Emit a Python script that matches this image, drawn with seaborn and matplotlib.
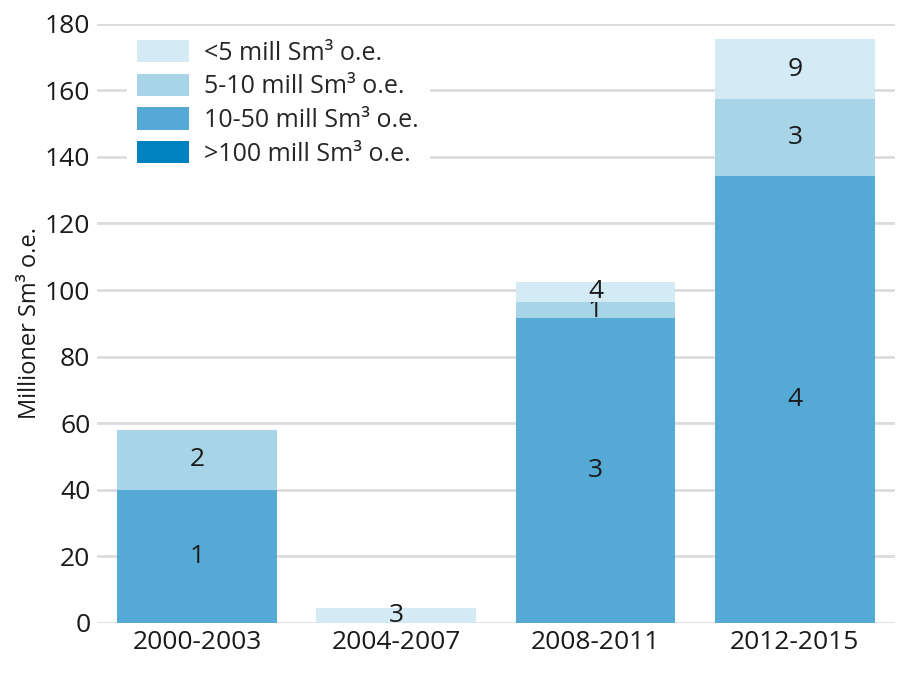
import matplotlib
matplotlib.use('Agg')
import matplotlib.pyplot as plt
from matplotlib.patches import Patch
import numpy as np
import pandas as pd
import seaborn as sns

# Data
periods = ['2000-2003', '2004-2007', '2008-2011', '2012-2015']
classes = ['>100 mill Sm³ o.e.', '10-50 mill Sm³ o.e.',
           '5-10 mill Sm³ o.e.', '<5 mill Sm³ o.e.']
vol_gt100 = [0, 0, 0, 0]
vol_10_50 = [40, 0, 91.5, 134.3]
vol_5_10 = [18, 0, 5, 23]
vol_lt5 = [0, 4.5, 6, 18]
cnt_gt100 = [0, 0, 0, 0]
cnt_10_50 = [1, 0, 3, 4]
cnt_5_10 = [2, 0, 1, 3]
cnt_lt5 = [0, 3, 4, 9]

colors = ['#0081c0', '#55aad5', '#a8d4e8', '#d4eaf5']

sns.set_theme(style='white')
plt.rcParams['font.family'] = ['Open Sans', 'DejaVu Sans']

fig = plt.figure(figsize=(9, 6.8), dpi=100)
ax = fig.add_axes([0.108, 0.084, 0.886, 0.881])

volumes = [vol_gt100, vol_10_50, vol_5_10, vol_lt5]
counts = [cnt_gt100, cnt_10_50, cnt_5_10, cnt_lt5]
bottom = np.zeros(len(periods))

for vals, cnts, color in zip(volumes, counts, colors):
    df = pd.DataFrame({'Period': periods, 'Volume': vals})
    n_before = len(ax.containers)
    sns.barplot(data=df, x='Period', y='Volume', color=color,
                saturation=1, width=0.8, bottom=bottom, ax=ax,
                linewidth=0, zorder=3)
    cont = ax.containers[n_before]
    labels = [str(c) if v > 0 else '' for c, v in zip(cnts, vals)]
    ax.bar_label(cont, labels=labels, label_type='center',
                 fontsize=19, color='#1a1a1a')
    bottom = bottom + np.array(vals)

ax.set_xlim(-0.5, 3.5)
ax.set_ylim(0, 180)
ax.set_yticks(range(0, 181, 20))
ax.grid(axis='y', color='#dcdcdc', linewidth=2, zorder=0)
ax.set_axisbelow(True)
for s in ax.spines.values():
    s.set_visible(False)
ax.tick_params(axis='both', length=0, labelsize=19, colors='#1a1a1a', pad=5)
ax.set_xlabel('')
ax.set_ylabel('Millioner Sm³ o.e.', fontsize=17, color='#1a1a1a', labelpad=2)

handles = [Patch(facecolor=c, edgecolor='none') for c in colors[::-1]]
ax.legend(handles, classes[::-1], loc='upper left',
          bbox_to_anchor=(0.037, 0.99), borderaxespad=0, fontsize=18,
          frameon=True, facecolor='white', edgecolor='white', framealpha=1,
          handlelength=2.1, handleheight=1.0, handletextpad=0.6,
          labelspacing=0.32, borderpad=0.4, fancybox=False)

fig.savefig('out.png', dpi=100, facecolor='white')
